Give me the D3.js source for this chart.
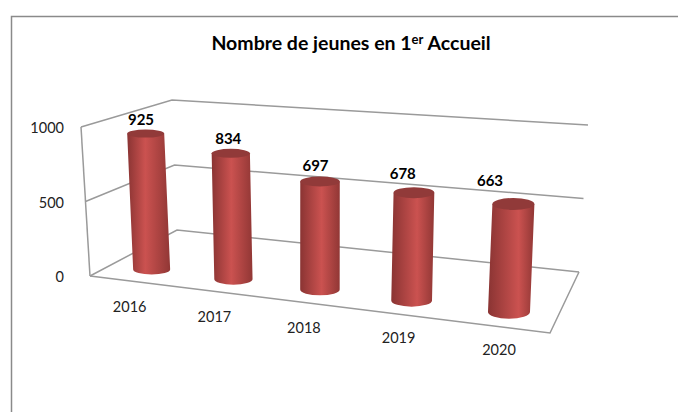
<!DOCTYPE html>
<html>
<head>
<meta charset="utf-8">
<script src="https://cdn.jsdelivr.net/npm/d3@7"></script>
<style>
  html, body { margin: 0; padding: 0; background: #fff; }
  svg { display: block; }
  text { font-family: Lato, sans-serif; }
</style>
</head>
<body>
<script>
const categories = ["2016", "2017", "2018", "2019", "2020"];
const values = [925, 834, 697, 678, 663];
const yTicks = [0, 500, 1000];

const width = 678, height = 412;

// homography from the unit square to a quad [front-left, front-right, back-right, back-left]
function quad(p) {
    const [[x0, y0], [x1, y1], [x2, y2], [x3, y3]] = p;
    const dx1 = x1 - x2, dx2 = x3 - x2, sx = x0 - x1 + x2 - x3;
    const dy1 = y1 - y2, dy2 = y3 - y2, sy = y0 - y1 + y2 - y3;
    const den = dx1 * dy2 - dx2 * dy1;
    const g = (sx * dy2 - dx2 * sy) / den, h = (dx1 * sy - sx * dy1) / den;
    const a = x1 - x0 + g * x1, b = x3 - x0 + h * x3;
    const d = y1 - y0 + g * y1, e = y3 - y0 + h * y3;
    return (u, w) => {
        const q = g * u + h * w + 1;
        return [(a * u + b * w + x0) / q, (d * u + e * w + y0) / q];
    };
}

const floor = quad([[90, 276], [550, 333], [579, 272], [177, 230]]);
// how far a full-height (1000) upright moves at each floor corner
const upFront = [[-9, -149], [8, -170]];
const upBack = [[-5, -130], [9, -147]];

const x = d3.scalePoint().domain(categories).range([0.103, 0.905]);
const y = d3.scaleLinear().domain([0, 1000]).range([0, 1]);
const radius = d3.scaleLinear().domain([0.103, 0.905]).range([18.5, 21]);
const labelX = d3.scalePoint().domain(categories).range([141, 490]);
const barDepth = 0.22;

function project(u, w, v) {
    const a = floor(u, w), t = y(v);
    const up = [0, 1].map(k => {
        const f = upFront[0][k] + (upFront[1][k] - upFront[0][k]) * u;
        const b = upBack[0][k] + (upBack[1][k] - upBack[0][k]) * u;
        return f + (b - f) * w;
    });
    return [a[0] + up[0] * t, a[1] + up[1] * t];
}

const svg = d3.select("body").append("svg")
    .attr("width", width)
    .attr("height", height);

const defs = svg.append("defs");
const line = d3.line();

// frame
svg.append("path")
    .attr("d", "M11.5,412V16.5H678")
    .attr("fill", "none")
    .attr("stroke", "#8a8a8a")
    .attr("stroke-width", 1.5);

// title
const title = svg.append("text")
    .attr("x", 351)
    .attr("y", 49.5)
    .attr("text-anchor", "middle")
    .attr("font-size", 19.5)
    .attr("font-weight", 700)
    .attr("fill", "#000");
title.append("tspan").text("Nombre de jeunes en 1");
title.append("tspan").text("er").attr("font-size", 13).attr("dy", -6);
title.append("tspan").text(" Accueil").attr("dy", 6);

// walls and floor
const walls = svg.append("g")
    .attr("fill", "none")
    .attr("stroke", "#9a9a9a")
    .attr("stroke-width", 1.5);

yTicks.forEach(t => {
    walls.append("path").attr("d", line([project(0, 0, t), project(0, 1, t), project(1, 1, t)]));
});
walls.append("path").attr("d", line([project(0, 0, 0), project(0, 0, 1000)]));
walls.append("path").attr("d", line([project(0, 0, 0), project(1, 0, 0), project(1, 1, 0)]));

// y tick labels
svg.append("g")
    .selectAll("text")
    .data(yTicks)
    .join("text")
    .attr("x", 64)
    .attr("y", d => project(0, 0, d)[1] + 6)
    .attr("text-anchor", "end")
    .attr("font-size", 14.5)
    .attr("fill", "#222")
    .text(d => d);

// category labels, placed from the foot of each cylinder
svg.append("g")
    .selectAll("text")
    .data(categories)
    .join("text")
    .attr("x", (d, i) => project(x(d), barDepth, 0)[0] - 22 + i * 3)
    .attr("y", d => project(x(d), barDepth, 0)[1] + 43)
    .attr("text-anchor", "middle")
    .attr("font-size", 14.5)
    .attr("fill", "#222")
    .text(d => d);

// cylinders
const bars = svg.append("g")
    .selectAll("g")
    .data(categories.map((c, i) => ({ c, i, v: values[i] })))
    .join("g");

bars.each(function (d) {
    const u = x(d.c);
    const rx = radius(u);
    const b = project(u, barDepth, 0), t = project(u, barDepth, d.v);
    const ryB = 5 + d.i * 0.4, ryT = 4 + d.i * 0.5;
    const id = "cyl" + d.i;
    const peak = 0.42 + d.i * 0.06;

    const g = defs.append("linearGradient").attr("id", id);
    g.append("stop").attr("offset", 0).attr("stop-color", "#8a3433");
    g.append("stop").attr("offset", peak).attr("stop-color", "#cb5250");
    g.append("stop").attr("offset", 1).attr("stop-color", "#913735");

    d3.select(this).append("path")
        .attr("fill", `url(#${id})`)
        .attr("d", `M${b[0] - rx},${b[1]}L${t[0] - rx},${t[1]}L${t[0] + rx},${t[1]}L${b[0] + rx},${b[1]}A${rx},${ryB} 0 0 1 ${b[0] - rx},${b[1]}Z`);
    d3.select(this).append("ellipse")
        .attr("cx", t[0])
        .attr("cy", t[1])
        .attr("rx", rx)
        .attr("ry", ryT)
        .attr("fill", "#913a39");
});

// value labels
svg.append("g")
    .selectAll("text")
    .data(values)
    .join("text")
    .attr("x", (d, i) => labelX(categories[i]))
    .attr("y", (d, i) => project(x(categories[i]), barDepth, d)[1] - 8.5 - i * i * 0.6)
    .attr("text-anchor", "middle")
    .attr("font-size", 15)
    .attr("font-weight", 700)
    .attr("fill", "#000")
    .text(d => d);
</script>
</body>
</html>
